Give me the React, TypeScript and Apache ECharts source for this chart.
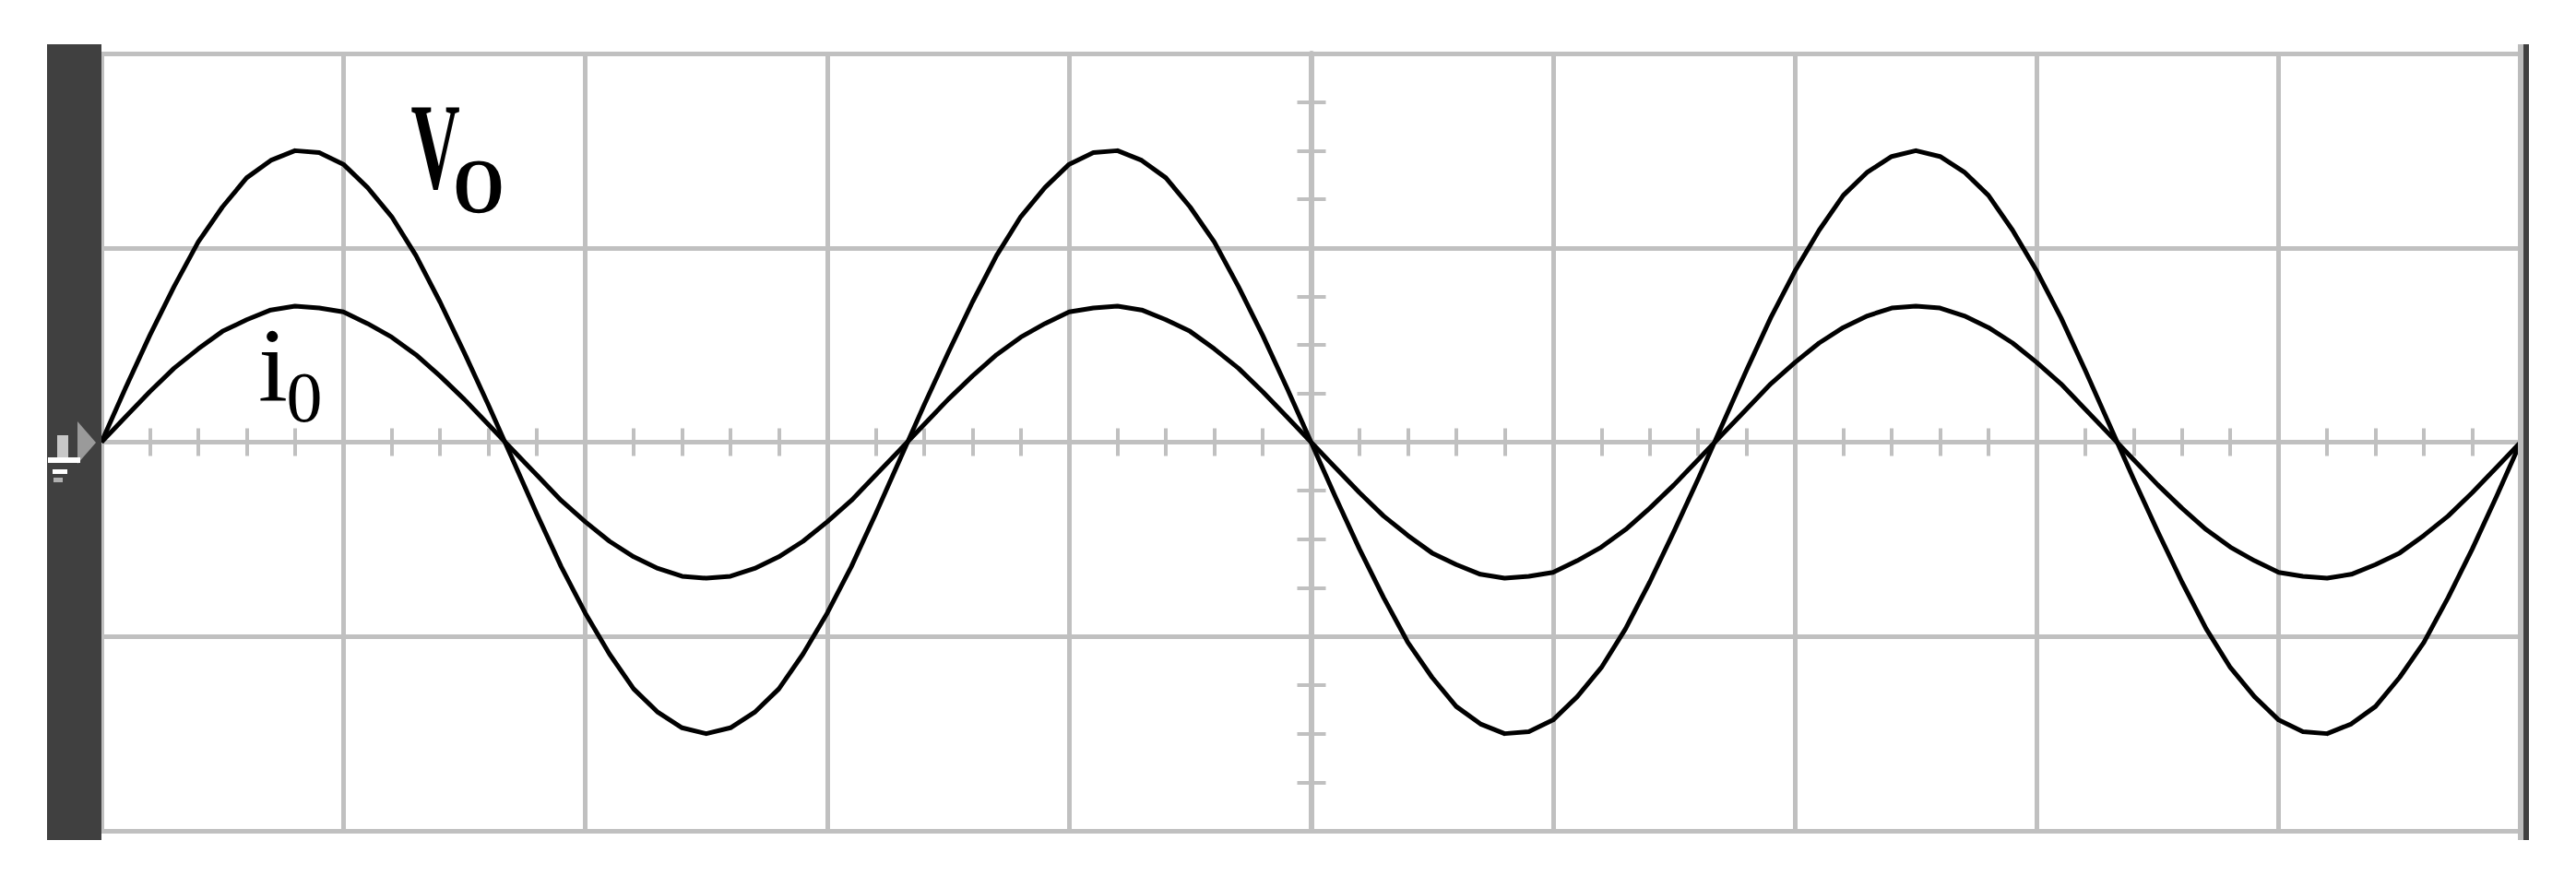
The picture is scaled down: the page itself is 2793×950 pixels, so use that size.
import React, { useEffect, useRef } from "react";
import * as echarts from "echarts";

// Oscilloscope screen: 10 horizontal divisions, 4 vertical divisions
const X_MIN = -5;
const X_MAX = 5;
const Y_MIN = -2;
const Y_MAX = 2;
const SAMPLE_STEP = 0.1; // divisions between samples

// Output voltage Vo (divisions), read every 0.1 div from the left edge
const voValues = [
  0, 0.28, 0.55, 0.8, 1.03, 1.21, 1.36, 1.45, 1.5, 1.49,
  1.43, 1.31, 1.16, 0.96, 0.72, 0.46, 0.19, -0.09, -0.37, -0.64,
  -0.88, -1.09, -1.27, -1.39, -1.47, -1.5, -1.47, -1.39, -1.27, -1.09,
  -0.88, -0.64, -0.37, -0.09, 0.19, 0.46, 0.72, 0.96, 1.16, 1.31,
  1.43, 1.49, 1.5, 1.45, 1.36, 1.21, 1.03, 0.8, 0.55, 0.28,
  0,
  -0.28, -0.55, -0.8, -1.03, -1.21, -1.36, -1.45, -1.5, -1.49, -1.43,
  -1.31, -1.16, -0.96, -0.72, -0.46, -0.19, 0.09, 0.37, 0.64, 0.88,
  1.09, 1.27, 1.39, 1.47, 1.5, 1.47, 1.39, 1.27, 1.09, 0.88,
  0.64, 0.37, 0.09, -0.19, -0.46, -0.72, -0.96, -1.16, -1.31, -1.43,
  -1.49, -1.5, -1.45, -1.36, -1.21, -1.03, -0.8, -0.55, -0.28, 0,
];

// Output current io (divisions), same sampling
const ioValues = [
  0, 0.13, 0.26, 0.38, 0.48, 0.57, 0.63, 0.68, 0.7, 0.69,
  0.67, 0.61, 0.54, 0.45, 0.34, 0.22, 0.09, -0.04, -0.17, -0.3,
  -0.41, -0.51, -0.59, -0.65, -0.69, -0.7, -0.69, -0.65, -0.59, -0.51,
  -0.41, -0.3, -0.17, -0.04, 0.09, 0.22, 0.34, 0.45, 0.54, 0.61,
  0.67, 0.69, 0.7, 0.68, 0.63, 0.57, 0.48, 0.38, 0.26, 0.13,
  0,
  -0.13, -0.26, -0.38, -0.48, -0.57, -0.63, -0.68, -0.7, -0.69, -0.67,
  -0.61, -0.54, -0.45, -0.34, -0.22, -0.09, 0.04, 0.17, 0.3, 0.41,
  0.51, 0.59, 0.65, 0.69, 0.7, 0.69, 0.65, 0.59, 0.51, 0.41,
  0.3, 0.17, 0.04, -0.09, -0.22, -0.34, -0.45, -0.54, -0.61, -0.67,
  -0.69, -0.7, -0.68, -0.63, -0.57, -0.48, -0.38, -0.26, -0.13, 0,
];

const W = 2793;
const H = 950;
const G_LEFT = 110;
const G_RIGHT = 2733;
const G_TOP = 58;
const G_BOTTOM = 901;
const CX = (G_LEFT + G_RIGHT) / 2;
const CY = (G_TOP + G_BOTTOM) / 2;

const GRID_COLOR = "#c0c0c0";

export default function App() {
  const ref = useRef<HTMLDivElement>(null);

  useEffect(() => {
    document.body.style.margin = "0";
    if (!ref.current) return;
    const chart = echarts.init(ref.current, undefined, { renderer: "svg" });

    const toPairs = (arr: number[]) =>
      arr.map((v, i) => [X_MIN + i * SAMPLE_STEP, v]);

    const option: any = {
      animation: false,
      backgroundColor: "#ffffff",
      grid: [
        {
          left: G_LEFT,
          top: G_TOP,
          width: G_RIGHT - G_LEFT,
          height: G_BOTTOM - G_TOP,
          containLabel: false,
        },
        {
          // strip for ticks crossing the horizontal centre line
          left: G_LEFT,
          top: CY - 15,
          width: G_RIGHT - G_LEFT,
          height: 30,
        },
        {
          // strip for ticks crossing the vertical centre line
          left: CX - 15,
          top: G_TOP,
          width: 30,
          height: G_BOTTOM - G_TOP,
        },
      ],
      xAxis: [
        {
          gridIndex: 0,
          type: "value",
          min: X_MIN,
          max: X_MAX,
          interval: 1,
          axisLine: {
            show: true,
            onZero: true,
            lineStyle: { color: GRID_COLOR, width: 5 },
          },
          axisTick: { show: false },
          axisLabel: { show: false },
          splitLine: {
            show: true,
            lineStyle: { color: GRID_COLOR, width: 5 },
          },
        },
        {
          gridIndex: 1,
          type: "value",
          min: X_MIN,
          max: X_MAX,
          interval: 1,
          position: "bottom",
          axisLine: { show: false, onZero: false },
          axisTick: {
            show: true,
            inside: true,
            length: 30,
            lineStyle: { color: GRID_COLOR, width: 4 },
          },
          minorTick: {
            show: true,
            splitNumber: 5,
            length: 30,
            lineStyle: { color: GRID_COLOR, width: 4 },
          },
          axisLabel: { show: false },
          splitLine: { show: false },
        },
        {
          gridIndex: 2,
          type: "value",
          min: 0,
          max: 1,
          show: false,
        },
      ],
      yAxis: [
        {
          gridIndex: 0,
          type: "value",
          min: Y_MIN,
          max: Y_MAX,
          interval: 1,
          axisLine: {
            show: true,
            onZero: true,
            lineStyle: { color: GRID_COLOR, width: 6 },
          },
          axisTick: { show: false },
          axisLabel: { show: false },
          splitLine: {
            show: true,
            lineStyle: { color: GRID_COLOR, width: 5 },
          },
        },
        {
          gridIndex: 1,
          type: "value",
          min: 0,
          max: 1,
          show: false,
        },
        {
          gridIndex: 2,
          type: "value",
          min: Y_MIN,
          max: Y_MAX,
          interval: 1,
          position: "left",
          axisLine: { show: false, onZero: false },
          axisTick: {
            show: true,
            inside: true,
            length: 31,
            lineStyle: { color: GRID_COLOR, width: 4 },
          },
          minorTick: {
            show: true,
            splitNumber: 4,
            length: 31,
            lineStyle: { color: GRID_COLOR, width: 4 },
          },
          axisLabel: { show: false },
          splitLine: { show: false },
        },
      ],
      series: [
        {
          name: "Vo",
          type: "line",
          xAxisIndex: 0,
          yAxisIndex: 0,
          data: toPairs(voValues),
          smooth: false,
          symbol: "none",
          z: 5,
          lineStyle: { color: "#000000", width: 5, join: "round" },
        },
        {
          name: "io",
          type: "line",
          xAxisIndex: 0,
          yAxisIndex: 0,
          data: toPairs(ioValues),
          smooth: false,
          symbol: "none",
          z: 5,
          lineStyle: { color: "#000000", width: 5, join: "round" },
        },
      ],
      graphic: [
        // left dark bezel
        {
          type: "rect",
          z: 100,
          shape: { x: 51, y: 48, width: G_LEFT - 51, height: 911 - 48 },
          style: { fill: "#404040" },
        },
        // right dark edge
        {
          type: "rect",
          z: 100,
          shape: { x: 2736, y: 48, width: 6, height: 911 - 48 },
          style: { fill: "#404040" },
        },
        {
          type: "rect",
          z: 99,
          shape: { x: 2730, y: 48, width: 6, height: 911 - 48 },
          style: { fill: "#bcbcbc" },
        },
        // channel ground marker
        {
          type: "polygon",
          z: 101,
          shape: { points: [[84, 457], [104, 480], [84, 503]] },
          style: { fill: "#9a9a9a" },
        },
        {
          type: "rect",
          z: 101,
          shape: { x: 62, y: 472, width: 12, height: 24 },
          style: { fill: "#c8c8c8" },
        },
        {
          type: "rect",
          z: 101,
          shape: { x: 52, y: 496, width: 35, height: 6 },
          style: { fill: "#ffffff" },
        },
        {
          type: "rect",
          z: 101,
          shape: { x: 57, y: 509, width: 16, height: 5 },
          style: { fill: "#ffffff" },
        },
        {
          type: "rect",
          z: 101,
          shape: { x: 58, y: 518, width: 10, height: 5 },
          style: { fill: "#b0b0b0" },
        },
        // labels
        {
          type: "text",
          z: 110,
          x: 472,
          y: 159,
          scaleX: 0.55,
          style: {
            text: "V",
            x: 0,
            y: 0,
            fontFamily: "Liberation Serif",
            fontWeight: "bold",
            fontSize: 134,
            fill: "#000000",
            align: "center",
            verticalAlign: "middle",
          },
        },
        {
          type: "text",
          z: 110,
          x: 519,
          y: 203,
          scaleX: 0.85,
          style: {
            text: "O",
            x: 0,
            y: 0,
            fontFamily: "Liberation Serif",
            fontWeight: "bold",
            fontSize: 84,
            fill: "#000000",
            align: "center",
            verticalAlign: "middle",
          },
        },
        {
          type: "text",
          z: 110,
          x: 296,
          y: 396,
          style: {
            text: "i",
            x: 0,
            y: 0,
            fontFamily: "Liberation Serif",
            fontSize: 115,
            fill: "#000000",
            align: "center",
            verticalAlign: "middle",
          },
        },
        {
          type: "text",
          z: 110,
          x: 330,
          y: 430,
          style: {
            text: "0",
            x: 0,
            y: 0,
            fontFamily: "Liberation Serif",
            fontSize: 78,
            fill: "#000000",
            align: "center",
            verticalAlign: "middle",
          },
        },
      ],
    };

    chart.setOption(option);
    return () => {
      chart.dispose();
    };
  }, []);

  return <div ref={ref} style={{ width: W, height: H }} />;
}
